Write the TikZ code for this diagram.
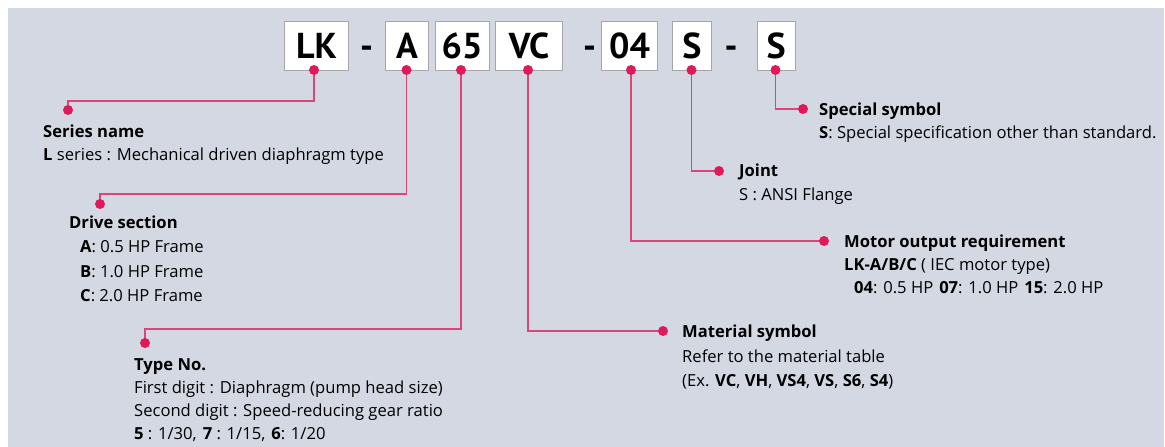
\documentclass[tikz,border=0pt]{standalone}
\usepackage{fontspec}
\setmainfont{Open Sans}
\newfontfamily\codefont{PT Sans}
\definecolor{bg}{RGB}{212,216,227}
\definecolor{mag}{RGB}{224,26,88}
\definecolor{lin}{RGB}{218,70,122}
\definecolor{boxline}{RGB}{165,165,170}
\begin{document}
\begin{tikzpicture}[x=1pt,y=-1pt,
  codebox/.style={draw=boxline,fill=white,line width=1pt,minimum height=49pt,inner sep=0pt,anchor=north west,font=\codefont\fontsize{36}{36}\selectfont\bfseries},
  dashsym/.style={anchor=base,inner sep=0pt,font=\codefont\fontsize{36}{36}\selectfont\bfseries},
  pin/.style={circle,minimum size=10pt,inner sep=0pt},
  con/.style={draw=lin,line width=1.5pt},
  txt/.style={anchor=base west,inner sep=0pt,font=\fontsize{16.6}{20}\selectfont},
  hd/.style={anchor=base west,inner sep=0pt,font=\fontsize{16.6}{20}\selectfont\bfseries}]
\useasboundingbox (0,0) rectangle (1165,447);
\fill[white] (0,0) rectangle (1165,447);
\fill[bg] (8,8) rectangle (1164,447);

% code boxes
\node[codebox,minimum width=64pt] (bLK) at (284,21) {LK};
\node[dashsym] (m1) at (366.5,58) {-};
\node[codebox,minimum width=43pt] (bA) at (385,21) {A};
\node[codebox,minimum width=54pt] (b65) at (434.5,21) {65};
\node[codebox,minimum width=67pt] (bVC) at (495,21) {VC};
\node[dashsym] (m2) at (589.5,58) {-};
\node[codebox,minimum width=56pt] (b04) at (601,21) {04};
\node[codebox,minimum width=39pt] (bS) at (672,21) {S};
\node[dashsym] (m3) at (731,58) {-};
\node[codebox,minimum width=38.5pt] (bSS) at (756.5,21) {S};

% pins on boxes
\node[pin] (dLK) at (314,70) {};
\node[pin] (dA) at (406.5,70) {};
\node[pin] (d65) at (461,70) {};
\node[pin] (dVC) at (528,70) {};
\node[pin] (d04) at (631,70) {};
\node[pin] (dS) at (691.5,70) {};
\node[pin] (dSS) at (775.5,70) {};

% end pins
\node[pin] (eSN) at (68,110) {};
\node[pin] (eDS) at (100,204) {};
\node[pin] (eTN) at (145,343) {};
\node[pin] (eMS) at (663,331) {};
\node[pin] (eMO) at (824,241) {};
\node[pin] (eJ) at (719,171) {};
\node[pin] (eSS) at (803,109) {};

\coordinate (c1) at (68,101);
\coordinate (c2) at (100,194);
\coordinate (c3) at (145,329);

\draw[con] (dLK.center) |- (c1) -- (eSN.center);
\draw[con] (dA.center) |- (c2) -- (eDS.center);
\draw[con] (d65.center) |- (c3) -- (eTN.center);
\draw[con] (dVC.center) |- (eMS.center);
\draw[con] (d04.center) |- (eMO.center);
\draw[con] (dS.center) |- (eJ.center);
\draw[con] (dSS.center) |- (eSS.center);
\foreach \p in {dLK,dA,d65,dVC,d04,dS,dSS,eSN,eDS,eTN,eMS,eMO,eJ,eSS}
  \fill[mag] (\p) circle (5pt);

% texts
\node[hd] (sn1) at (43,137) {Series name};
\node[txt] (sn2) at (43,160.5) {\textbf{L} series : Mechanical driven diaphragm type};

\node[hd] (ds1) at (69,228) {Drive section};
\node[txt] (ds2) at (80,252) {\textbf{A}: 0.5 HP Frame};
\node[txt] (ds3) at (80,277) {\textbf{B}: 1.0 HP Frame};
\node[txt] (ds4) at (80,301) {\textbf{C}: 2.0 HP Frame};

\node[hd] (tn1) at (134,370) {Type No.};
\node[txt] (tn2) at (134,393) {First digit : Diaphragm (pump head size)};
\node[txt] (tn3) at (134,416) {Second digit : Speed-reducing gear ratio};
\node[txt] (tn4) at (134,439) {\textbf{5} : 1/30,\hspace{0.1em} \textbf{7} : 1/15,\hspace{0.1em} \textbf{6}: 1/20};

\node[hd] (ms1) at (682,337) {Material symbol};
\node[txt] (ms2) at (682,362) {Refer to the material table};
\node[txt] (ms3) at (682,386) {(Ex. \textbf{VC}, \textbf{VH}, \textbf{VS4}, \textbf{VS}, \textbf{S6}, \textbf{S4})};

\node[hd] (mo1) at (844,247) {Motor output requirement};
\node[txt] (mo2) at (844,270) {\textbf{LK-A/B/C} ( IEC motor type)};
\node[txt] (mo3) at (854,293) {\textbf{04}: 0.5 HP\hspace{0.1em} \textbf{07}: 1.0 HP\hspace{0.1em} \textbf{15}: 2.0 HP};

\node[hd] (j1) at (739,176) {Joint};
\node[txt] (j2) at (739,200) {S : ANSI Flange};

\node[hd] (ss1) at (819,115) {Special symbol};
\node[txt] (ss2) at (819,138) {\textbf{S}: Special specification other than standard.};
\end{tikzpicture}
\end{document}
